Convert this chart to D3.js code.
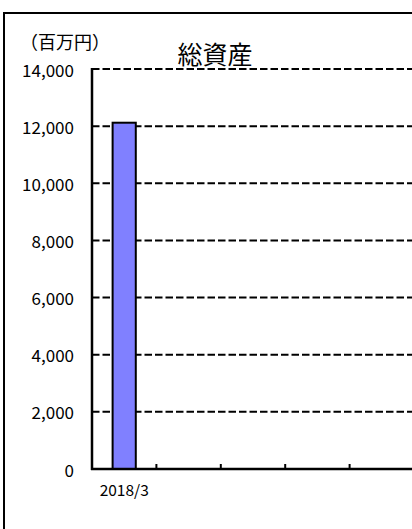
<!DOCTYPE html>
<html><head><meta charset="utf-8">
<script src="https://cdn.jsdelivr.net/npm/d3@7"></script>
<style>html,body{margin:0;padding:0;background:#fff;}svg{display:block;}</style>
</head><body>
<script>
const categories = ["2018/3"];
const totalAssets = [12120];
const slotCount = 5;
const yTicks = [0, 2000, 4000, 6000, 8000, 10000, 12000, 14000];
const title = "総資産";
const unitLabel = "（百万円）";

(function () {
const W = 412, H = 529;
const font = "'Noto Sans CJK JP', sans-serif";
const svg = d3.select("body").append("svg").attr("width", W).attr("height", H);

svg.append("rect").attr("x", 4).attr("y", 13).attr("width", 430).attr("height", 540)
  .attr("fill", "#fff").attr("stroke", "#000").attr("stroke-width", 2);

const pLeft = 92, pTop = 69, pBottom = 469, pRight = 414;
const x = d3.scaleBand().domain(d3.range(slotCount)).range([pLeft, pRight]);
const y = d3.scaleLinear().domain([0, 14000]).range([pBottom, pTop]);

// gridlines
svg.append("g").selectAll("line").data(yTicks.filter(d => d > 0)).join("line")
  .attr("x1", pLeft).attr("x2", W + 5)
  .attr("y1", d => y(d)).attr("y2", d => y(d))
  .attr("stroke", "#000").attr("stroke-width", 2).attr("stroke-dasharray", "7.5,3");

// y tick labels
svg.append("g").selectAll("text").data(yTicks).join("text")
  .attr("x", 74).attr("y", d => y(d)).attr("text-anchor", "end")
  .attr("dominant-baseline", "central")
  .style("font-family", font).style("font-size", "17px")
  .text(d => d3.format(",")(d));

// bars
const barW = x.bandwidth() * 0.36;
svg.append("g").selectAll("rect").data(totalAssets).join("rect")
  .attr("x", (d, i) => x(i) + x.bandwidth() / 2 - barW / 2)
  .attr("width", barW)
  .attr("y", d => y(d)).attr("height", d => y(0) - y(d))
  .attr("fill", "#8080FF").attr("stroke", "#000").attr("stroke-width", 2);

// axes
svg.append("line").attr("x1", pLeft).attr("x2", pLeft).attr("y1", pTop - 1).attr("y2", pBottom + 1)
  .attr("stroke", "#000").attr("stroke-width", 2.5);
svg.append("line").attr("x1", pLeft - 1).attr("x2", W + 5).attr("y1", pBottom).attr("y2", pBottom)
  .attr("stroke", "#000").attr("stroke-width", 2.5);
svg.append("g").selectAll("line").data(d3.range(1, slotCount)).join("line")
  .attr("x1", d => x(d)).attr("x2", d => x(d)).attr("y1", pBottom).attr("y2", pBottom - 5)
  .attr("stroke", "#000").attr("stroke-width", 2);

// x labels
svg.append("g").selectAll("text").data(categories).join("text")
  .attr("x", (d, i) => x(i) + x.bandwidth() / 2).attr("y", 489)
  .attr("text-anchor", "middle").attr("dominant-baseline", "central")
  .style("font-family", font).style("font-size", "15.5px")
  .text(d => d);

// title & unit
svg.append("text").attr("x", 215).attr("y", 53).attr("text-anchor", "middle")
  .attr("dominant-baseline", "central")
  .style("font-family", font).style("font-size", "25px").text(title);
svg.append("text").attr("x", 65).attr("y", 41).attr("text-anchor", "middle")
  .attr("dominant-baseline", "central")
  .style("font-family", font).style("font-size", "18px").text(unitLabel);
})();
</script>
</body></html>
